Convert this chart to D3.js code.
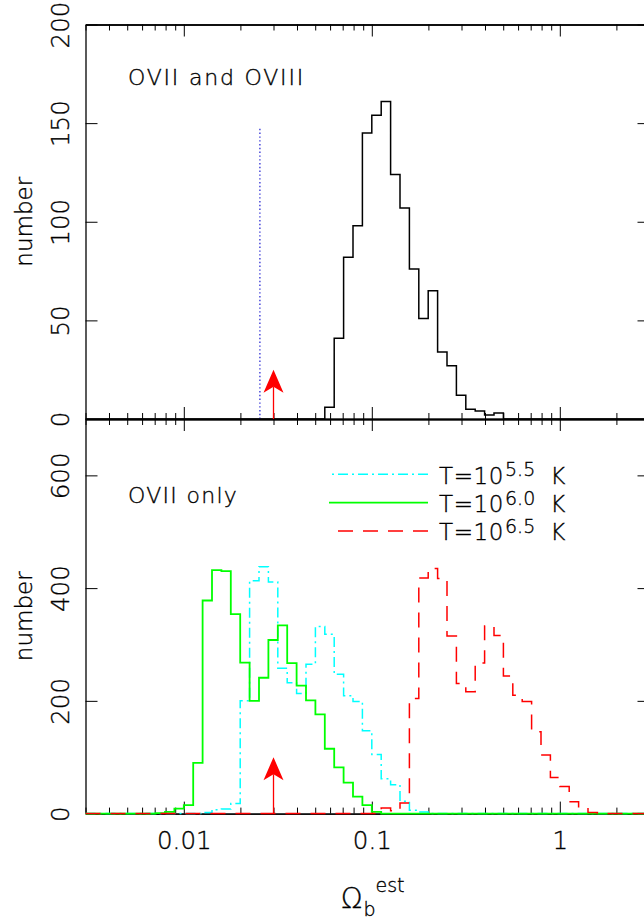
<!DOCTYPE html>
<html>
<head>
<meta charset="utf-8">
<script src="https://cdn.jsdelivr.net/npm/d3@7"></script>
<style>
  html, body { margin: 0; padding: 0; background: #fff; }
  svg { display: block; }
  text { font-family: "DejaVu Sans", "Liberation Sans", sans-serif; font-weight: 200; fill: #000; stroke: #000; stroke-width: 0.35; }
</style>
</head>
<body>
<svg id="chart" width="644" height="919"></svg>
<script>
// Histograms of the estimated baryon density, bins 0.05 dex wide in log10(Omega_b^est)
const binWidthDex = 0.05;

// Upper panel: OVII and OVIII together (first bin edge, then counts per bin)
const bothStart = -1.25;
const bothCounts = [6, 41, 82, 98, 145, 154, 161, 124, 107, 76, 51, 65, 34, 27, 12, 5, 4, 2, 3];

// Lower panel: OVII only, for three gas temperatures
const t55Start = -1.90;
const t55Counts = [2, 7, 8, 18, 200, 413, 438, 411, 258, 232, 213, 265, 332, 318, 247, 209, 199, 147, 105, 62, 51, 22, 6, 3];
const t60Start = -2.15;
const t60Counts = [1, 3, 9, 15, 90, 378, 432, 430, 354, 268, 200, 241, 308, 334, 267, 227, 201, 176, 115, 82, 55, 30, 15, 3];
const t65Start = -0.95;
const t65Counts = [10, 5, 19, 204, 418, 435, 417, 315, 231, 216, 267, 333, 316, 244, 210, 199, 145, 104, 64, 48, 21, 10, 2];

// Reference marks
const dottedOmega = 0.0254, dottedHeight = 148;   // dotted line, upper panel
const arrowOmega = 0.03;                          // arrow position in both panels
const arrowTopUpper = 25, arrowTopLower = 100;    // arrow tip heights (counts)

// Axes
const xDomain = [0.003, 3];
const xMajorTicks = [0.01, 0.1, 1];
const xMajorLabels = ["0.01", "0.1", "1"];
const yUpperDomain = [0, 200];
const yUpperTicks = [0, 50, 100, 150, 200];
const yLowerDomain = [0, 700];
const yLowerTicks = [0, 200, 400, 600];

// Text
const panelLabels = ["OVII and OVIII", "OVII only"];
const legendExps = ["5.5", "6.0", "6.5"];
const yTitle = "number";

// ---------------------------------------------------------------
const svg = d3.select("#chart");
const plotL = 85.5, plotR = 649.5;
const upperTop = 24.5, midY = 419, lowerBottom = 813.6;

const x = d3.scaleLog().domain(xDomain).range([plotL, plotR]);
const yU = d3.scaleLinear().domain(yUpperDomain).range([midY, upperTop]);
const yL = d3.scaleLinear().domain(yLowerDomain).range([lowerBottom, midY]);

const xMinorTicks = x.ticks().filter(v => !xMajorTicks.some(m => Math.abs(m - v) < 1e-9));

const axisStyle = g => {
  g.selectAll("path.domain").attr("stroke", "#000").attr("stroke-width", 1.3);
  g.selectAll(".tick line").attr("stroke", "#000").attr("stroke-width", 1);
};

function xAxes(yPos, orient, inwardSign, labelled) {
  const make = orient === "top" ? d3.axisTop : d3.axisBottom;
  svg.append("g").attr("transform", `translate(0,${yPos})`)
    .call(make(x).tickValues(xMinorTicks).tickSize(-6 * inwardSign).tickSizeOuter(0).tickFormat(""))
    .call(axisStyle);
  const gMajor = svg.append("g").attr("transform", `translate(0,${yPos})`)
    .call(make(x).tickValues(xMajorTicks).tickSize(-12 * inwardSign).tickSizeOuter(0)
      .tickFormat((d, i) => labelled ? xMajorLabels[i] : ""))
    .call(axisStyle);
  gMajor.selectAll(".tick text")
    .attr("y", 35).attr("dy", 0)
    .attr("font-size", 24.5).attr("font-family", "DejaVu Sans, sans-serif");
}

function yAxes(scale, ticks) {
  const gl = svg.append("g").attr("transform", `translate(${plotL},0)`)
    .call(d3.axisLeft(scale).tickValues(ticks).tickSize(-12).tickSizeOuter(0))
    .call(axisStyle);
  gl.selectAll(".tick text")
    .attr("x", 0).attr("dy", 0)
    .attr("text-anchor", "middle")
    .attr("transform", "translate(-17,0) rotate(-90)")
    .attr("font-size", 24.5).attr("font-family", "DejaVu Sans, sans-serif");
  svg.append("g").attr("transform", `translate(${plotR},0)`)
    .call(d3.axisRight(scale).tickValues(ticks).tickSize(-12).tickSizeOuter(0).tickFormat(""))
    .call(axisStyle);
}

// upper panel frame
xAxes(upperTop, "top", 1, false);
xAxes(midY, "bottom", 1, false);
yAxes(yU, yUpperTicks);
// lower panel frame
xAxes(midY, "top", 1, false);
xAxes(lowerBottom, "bottom", 1, true);
yAxes(yL, yLowerTicks);

// y titles, centred on each panel
[yU, yL].forEach(s => {
  const cy = (s.range()[0] + s.range()[1]) / 2;
  svg.append("text")
    .attr("transform", `translate(32,${cy}) rotate(-90)`)
    .attr("text-anchor", "middle")
    .attr("font-size", 23)
    .text(yTitle);
});

// x title: Omega_b^est
const xt = svg.append("text").attr("x", 341).attr("y", 908);
xt.append("tspan").attr("font-size", 28).text("\u03A9");
xt.append("tspan").attr("font-size", 19).attr("dy", 8).attr("dx", 1).text("b");
xt.append("tspan").attr("font-size", 19).attr("dy", -24).attr("dx", 0).text("est");

// histogram step paths
function stepPoints(start, counts) {
  const pts = [[xDomain[0], 0]];
  counts.forEach((c, i) => pts.push([Math.pow(10, start + i * binWidthDex), c]));
  pts.push([Math.pow(10, start + counts.length * binWidthDex), 0]);
  pts.push([xDomain[1], 0]);
  return pts;
}
const stepLine = yScale => d3.line().x(d => x(d[0])).y(d => yScale(d[1])).curve(d3.curveStepAfter);

// upper panel
svg.append("line")
  .attr("x1", x(dottedOmega)).attr("x2", x(dottedOmega))
  .attr("y1", yU(0)).attr("y2", yU(dottedHeight))
  .attr("stroke", "#1a1ad0").attr("stroke-width", 1.2).attr("stroke-dasharray", "1.4,2.4");

svg.append("path")
  .datum(stepPoints(bothStart, bothCounts))
  .attr("d", stepLine(yU))
  .attr("fill", "none").attr("stroke", "#000").attr("stroke-width", 1.5);

// lower panel
const series = [
  { start: t55Start, counts: t55Counts, color: "#00ffff", dash: "10,4,2,4", width: 1.5 },
  { start: t60Start, counts: t60Counts, color: "#00ff00", dash: null, width: 1.8 },
  { start: t65Start, counts: t65Counts, color: "#ff0000", dash: "15,10", width: 1.5 }
];
series.forEach(s => {
  svg.append("path")
    .datum(stepPoints(s.start, s.counts))
    .attr("d", stepLine(yL))
    .attr("fill", "none").attr("stroke", s.color).attr("stroke-width", s.width)
    .attr("stroke-dasharray", s.dash);
});

// arrows
function arrow(yScale, tip) {
  const ax = x(arrowOmega), y0 = yScale(0), yt = yScale(tip);
  svg.append("line").attr("x1", ax).attr("x2", ax).attr("y1", y0).attr("y2", yt + 17)
    .attr("stroke", "#ff0000").attr("stroke-width", 1.3);
  svg.append("path")
    .attr("d", `M${ax},${yt} L${ax + 10},${yt + 23} L${ax},${yt + 17} L${ax - 10},${yt + 23} Z`)
    .attr("fill", "#ff0000");
}
arrow(yU, arrowTopUpper);
arrow(yL, arrowTopLower);

// panel labels
svg.append("text").attr("x", 128).attr("y", 84.5).attr("font-size", 22)
  .attr("letter-spacing", 1.8).text(panelLabels[0]);
svg.append("text").attr("x", 128).attr("y", 503).attr("font-size", 22)
  .attr("letter-spacing", 1.3).text(panelLabels[1]);

// legend
const legendY = [474.3, 502.7, 531];
series.forEach((s, i) => {
  svg.append("line").attr("x1", 428).attr("x2", 329)
    .attr("y1", legendY[i]).attr("y2", legendY[i])
    .attr("stroke", s.color).attr("stroke-width", s.width)
    .attr("stroke-dasharray", s.dash);
  const t = svg.append("text").attr("x", 439).attr("y", legendY[i] + 9.3).attr("font-size", 23);
  t.append("tspan").attr("letter-spacing", 0.6).text("T=10");
  t.append("tspan").attr("font-size", 19).attr("dy", -7.5).attr("dx", 1).text(legendExps[i]);
  t.append("tspan").attr("dy", 7.5).attr("dx", 15).text("K");
});
</script>
</body>
</html>
